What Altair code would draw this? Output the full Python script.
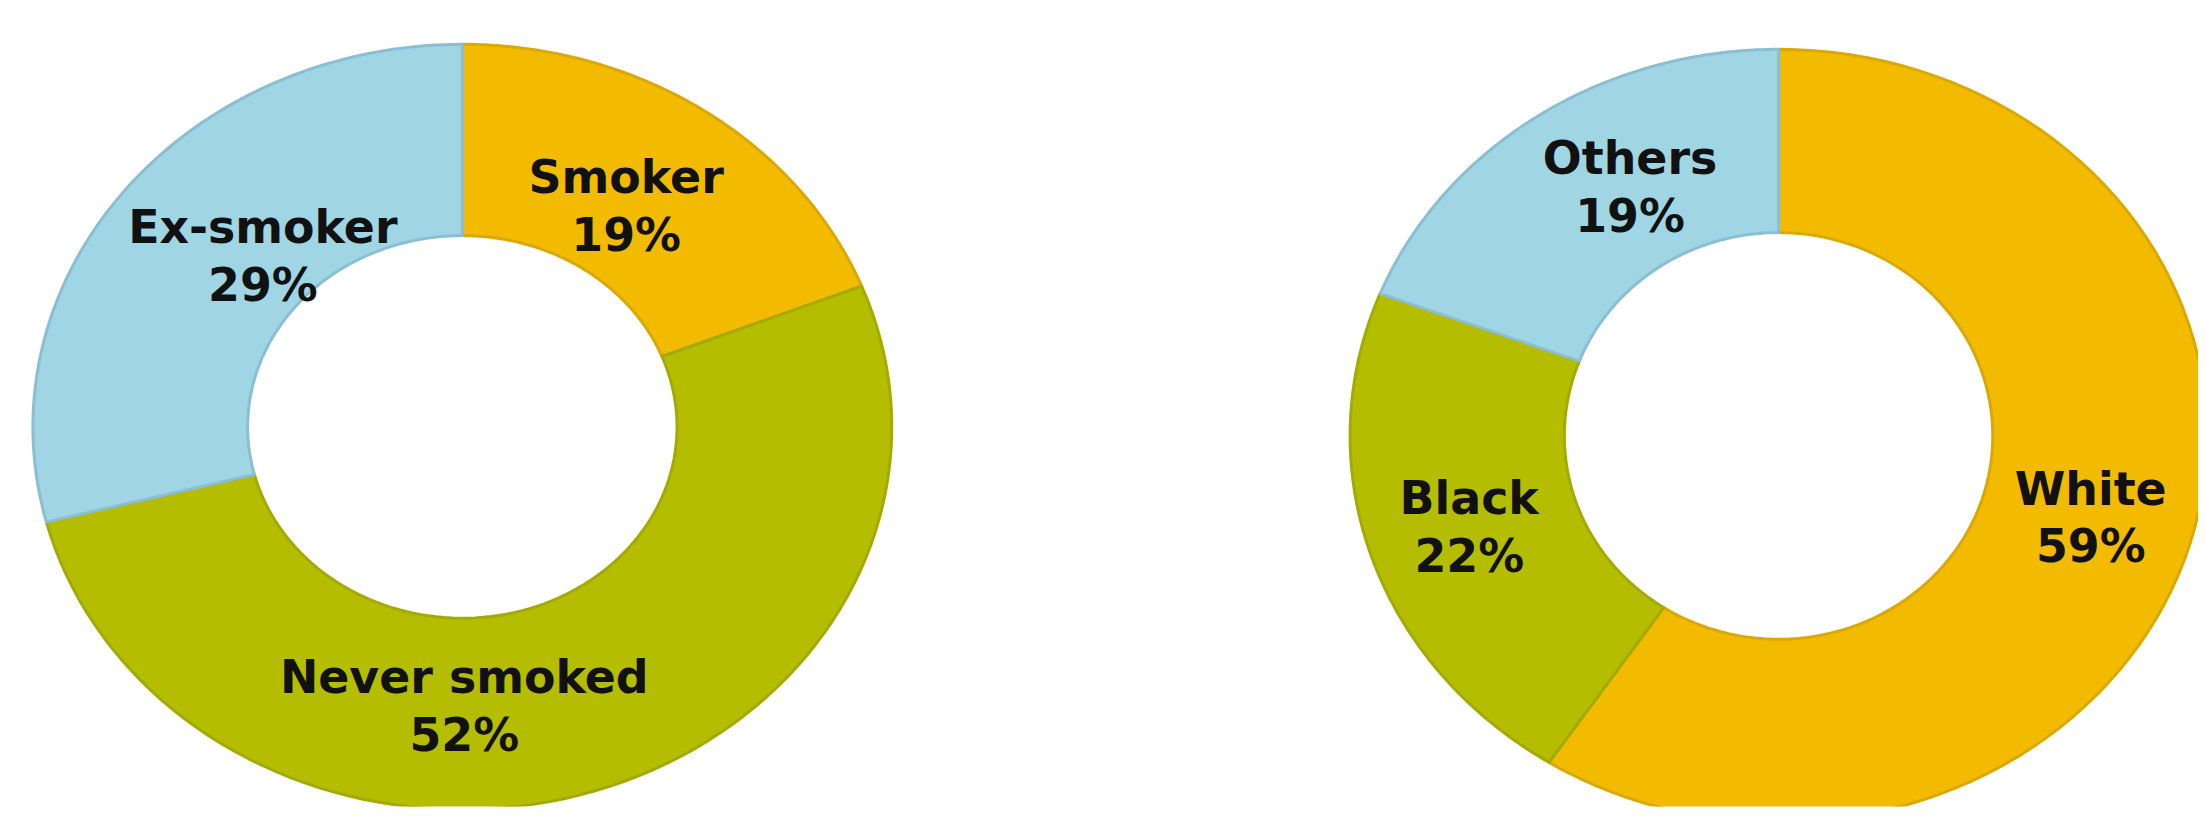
import altair as alt
import pandas as pd

# ---- data ----
smoking_labels = ["Smoker", "Never smoked", "Ex-smoker"]
smoking_values = [19, 52, 29]
race_labels = ["White", "Black", "Others"]
race_values = [59, 22, 19]

# ---- styling ----
FILL = ["#F2BB00", "#B5BD00", "#A0D5E4"]
EDGE = ["#DBA800", "#A3AA00", "#8ABED2"]
TEXT = "#111111"
FONT = "DejaVu Sans"
FS = 46
HALF_LINE = 29
N = 90          # points per arc edge
R_LABEL = 0.72  # label radius (fraction of outer radius)


def donut(labels, values, width, height, xdom, ydom, ix, iy, nudges):
    df = pd.DataFrame({"label": labels, "value": values,
                       "idx": list(range(len(labels)))})
    base = (
        alt.Chart(df)
        .transform_window(cum="sum(value)", sort=[alt.SortField("idx")],
                          frame=[None, 0])
        .transform_joinaggregate(total="sum(value)")
        .transform_calculate(
            t0="2*PI*(datum.cum - datum.value)/datum.total",
            t1="2*PI*datum.cum/datum.total",
            pct="format(datum.value, 'd') + '%'",
        )
    )
    xs = alt.Scale(domain=xdom, nice=False, zero=False)
    ys = alt.Scale(domain=ydom, nice=False, zero=False)

    ring = (
        base.transform_calculate(k=f"sequence(0, {2 * N + 2})")
        .transform_flatten(["k"])
        .transform_calculate(
            outer=f"datum.k <= {N}",
            u=f"datum.k <= {N} ? datum.k/{N} : (datum.k - {N} - 1)/{N}",
            ang="datum.outer ? datum.t0 + (datum.t1 - datum.t0)*datum.u"
                " : datum.t1 - (datum.t1 - datum.t0)*datum.u",
            px=f"(datum.outer ? 1 : {ix})*sin(datum.ang)",
            py=f"(datum.outer ? 1 : {iy})*cos(datum.ang)",
        )
        .mark_line(filled=True, interpolate="linear-closed", strokeWidth=3,
                   strokeJoin="round", clip=True)
        .encode(
            x=alt.X("px:Q", scale=xs, axis=None),
            y=alt.Y("py:Q", scale=ys, axis=None),
            order=alt.Order("k:Q"),
            detail="label:N",
            fill=alt.Fill("label:N", scale=alt.Scale(domain=labels, range=FILL),
                          legend=None),
            stroke=alt.Stroke("label:N",
                              scale=alt.Scale(domain=labels, range=EDGE),
                              legend=None),
        )
    )

    lab = base.transform_calculate(
        mid="(datum.t0 + datum.t1)/2",
        lx=f"{R_LABEL}*sin(datum.mid)",
        ly=f"{R_LABEL}*cos(datum.mid)",
    )
    layers = [ring]
    for lbl in labels:
        ndx, ndy = nudges[lbl]
        sub = lab.transform_filter(alt.datum.label == lbl)
        enc = dict(x=alt.X("lx:Q", scale=xs, axis=None),
                   y=alt.Y("ly:Q", scale=ys, axis=None))
        for field, off in (("label", -HALF_LINE), ("pct", HALF_LINE)):
            layers.append(
                sub.mark_text(font=FONT, fontWeight="bold", fontSize=FS,
                              color=TEXT, align="center", baseline="middle",
                              dx=ndx, dy=ndy + off)
                .encode(text=f"{field}:N", **enc)
            )
    return alt.layer(*layers).properties(width=width, height=height)


left = donut(
    smoking_labels, smoking_values,
    width=872, height=770,
    xdom=[-1.0116, 1.0116], ydom=[-0.9922, 1.013],
    ix=0.5, iy=0.5,
    nudges={"Smoker": (-10, 9), "Never smoked": (-94, 19), "Ex-smoker": (45, 0)},
)
right = donut(
    race_labels, race_values,
    width=862, height=770,
    xdom=[-1.0256, 0.9790], ydom=[-0.9587, 1.0258],
    ix=0.5, iy=0.526,
    nudges={"White": (16, 6), "Black": (-16, 7), "Others": (25, -17)},
)

chart = (
    alt.hconcat(left, right, spacing=444)
    .properties(padding={"left": 20, "top": 30, "right": 0, "bottom": 0},
                background="white")
    .configure_view(stroke=None, clip=True)
)

chart.save("out.html", embed_options={"renderer": "svg", "actions": False})
